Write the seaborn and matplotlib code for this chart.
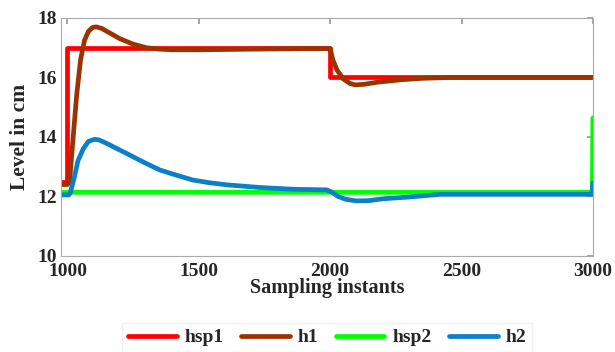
import matplotlib
matplotlib.use("Agg")
import matplotlib.pyplot as plt
import seaborn as sns
import pandas as pd

sns.set_theme(style="white")
plt.rcParams['font.family'] = ['Liberation Serif', 'DejaVu Serif']

# setpoint 1
hsp1_x = [975, 1000, 1000, 2000, 2000, 3000]
hsp1_y = [12.5, 12.5, 17.0, 17.0, 16.0, 16.0]

# level 1
h1_x = [975, 1000, 1008, 1020, 1035, 1050, 1065, 1080, 1095, 1110, 1130, 1160,
        1200, 1250, 1300, 1350, 1400, 1500, 1700, 1900, 2000, 2010, 2026, 2050,
        2075, 2095, 2130, 2180, 2267, 2350, 2458, 2700, 3000]
h1_y = [12.4, 12.4, 12.5, 13.8, 15.4, 16.6, 17.25, 17.55, 17.68, 17.7, 17.65, 17.5,
        17.3, 17.12, 17.0, 16.95, 16.93, 16.93, 16.95, 16.97, 16.97, 16.6, 16.25, 15.95,
        15.8, 15.75, 15.77, 15.84, 15.92, 15.97, 16.0, 16.0, 16.0]

# setpoint 2
hsp2_x = [975, 2998, 3000]
hsp2_y = [12.14, 12.14, 14.64]

# level 2
h2_x = [975, 1005, 1010, 1025, 1040, 1060, 1080, 1103, 1120, 1150, 1190, 1224,
        1290, 1351, 1420, 1478, 1540, 1606, 1733, 1860, 1987, 2005, 2030, 2060,
        2100, 2150, 2200, 2300, 2420, 2500, 2700, 2997, 3000]
h2_y = [12.05, 12.05, 12.1, 12.6, 13.2, 13.6, 13.85, 13.92, 13.9, 13.78, 13.6, 13.45,
        13.15, 12.89, 12.7, 12.55, 12.46, 12.39, 12.3, 12.24, 12.22, 12.15, 12.0, 11.9,
        11.85, 11.86, 11.92, 11.98, 12.07, 12.07, 12.07, 12.07, 12.45]

series = [
    ('hsp1', hsp1_x, hsp1_y, '#ff0000'),
    ('h1', h1_x, h1_y, '#9b3300'),
    ('hsp2', hsp2_x, hsp2_y, '#00ff00'),
    ('h2', h2_x, h2_y, '#0b80c8'),
]

fig = plt.figure(figsize=(6.15, 3.52), dpi=100)
ax = fig.add_axes([0.099, 0.273, 0.865, 0.676])

for name, xs, ys, col in series:
    df = pd.DataFrame({'x': xs, 'y': ys})
    sns.lineplot(data=df, x='x', y='y', ax=ax, color=col, linewidth=3.4,
                 label=name, sort=False, estimator=None)

ax.set_xlim(975, 3000)
ax.set_ylim(10, 18)
ax.set_xticks([1000, 1500, 2000, 2500, 3000])
ax.set_yticks([10, 12, 14, 16, 18])
ax.tick_params(direction='in', length=4, color='#999999', top=True, right=True,
               labelsize=14, pad=3)
ax.tick_params(axis='x', pad=5)
for lab in ax.get_xticklabels() + ax.get_yticklabels():
    lab.set_fontweight('bold')
for s in ax.spines.values():
    s.set_color('#aaaaaa')
    s.set_linewidth(0.8)

ax.set_xlabel('Sampling instants', fontsize=14.5, fontweight='bold', labelpad=-1)
ax.set_ylabel('Level in cm', fontsize=15.5, fontweight='bold', labelpad=5)

ax.get_legend().remove()
handles, labels = ax.get_legend_handles_labels()
fig.legend(handles, labels, loc='upper center', bbox_to_anchor=(0.532, 0.11), ncol=4,
           frameon=True, fancybox=False, edgecolor='#eeeeee',
           prop={'size': 14, 'weight': 'bold'},
           handlelength=2.5, columnspacing=0.9, handletextpad=0.4, borderpad=0.3)

fig.savefig('out.png', dpi=100)
